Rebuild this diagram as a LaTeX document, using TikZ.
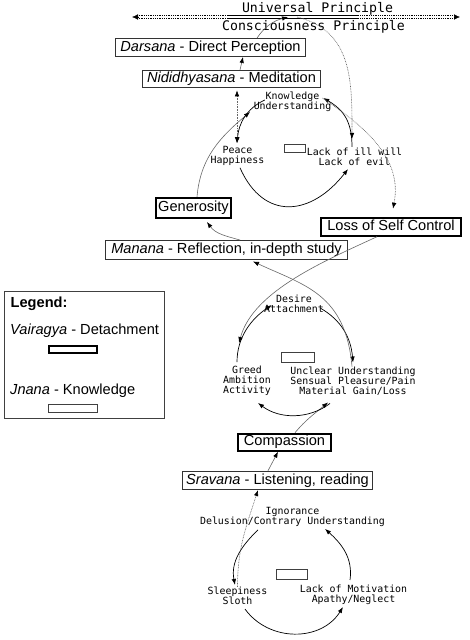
\documentclass[tikz,border=0pt]{standalone}
\usepackage{fontspec}
\setmainfont{Liberation Sans}
\newfontfamily\monof{DejaVu Sans Mono}
\usetikzlibrary{arrows.meta,calc}
\newcommand\boxf{\fontsize{14.6}{17}\selectfont}
\begin{document}
\begin{tikzpicture}[x=1pt,y=1pt,
  pbox/.style={draw=black!80, line width=0.9pt, font=\boxf, text height=10.6pt, text depth=3.1pt, inner xsep=0pt, inner ysep=1.5pt},
  kbox/.style={draw=black, line width=1.8pt, font=\boxf, text height=10.6pt, text depth=3.1pt, inner xsep=0pt, inner ysep=1.5pt},
  vname/.style={font=\monof\fontsize{9.9}{10}\selectfont, align=center, inner sep=0pt},
  lrect/.style={draw=black!75, line width=1.2pt, inner sep=0pt},
  tip/.style={-{Latex[length=6pt,width=4.5pt,color=black]}},
  cyc/.style={tip, line width=0.7pt, black},
  lnk/.style={tip, line width=0.6pt, black!60},
  dlnk/.style={lnk, dash pattern=on 0.8pt off 0.8pt},
]
\useasboundingbox (0,0) rectangle (470,-640);

% top principle line
\coordinate (ul) at (132,-17);
\coordinate (ur) at (460,-17);
\coordinate (sA) at (228,-17);
\coordinate (sB) at (358,-17);
\coordinate (linein) at (288,-17);
\coordinate (lineout) at (297,-17);
\draw[line width=0.8pt, double distance=1.8pt, dash pattern=on 0.9pt off 0.9pt] ([xshift=5pt]ul) -- ([xshift=-5pt]ur);
\draw[line width=0.8pt, double distance=1.8pt] (sA) -- (sB);
\draw[line width=0.5pt, -{Latex[length=6pt,width=5.5pt]}] ([xshift=6pt]ul) -- (ul);
\draw[line width=0.5pt, -{Latex[length=6pt,width=5.5pt]}] ([xshift=-6pt]ur) -- (ur);
\node[vname, font=\monof\fontsize{13.2}{14}\selectfont] (univ) at (317.5,-8.8) {Universal Principle};
\node[vname, font=\monof\fontsize{13.2}{14}\selectfont] (consc) at (313.5,-27.3) {Consciousness Principle};

% boxes
\node[pbox, minimum width=190, minimum height=18] (dars) at (210.5,-47.5) {\textit{Darsana} - Direct Perception};
\node[pbox, minimum width=178, minimum height=17.4] (nid) at (231.5,-79.2) {\textit{Nididhyasana} - Meditation};
\node[kbox, minimum width=75, minimum height=20.7] (gen) at (193.5,-208) {Generosity};
\node[kbox, minimum width=140, minimum height=18.2] (lsc) at (391,-226.7) {Loss of Self Control};
\node[pbox, minimum width=242, minimum height=19] (man) at (226.5,-250) {\textit{Manana} - Reflection, in-depth study};
\node[kbox, minimum width=93, minimum height=17.2] (comp) at (284.5,-442.2) {Compassion};
\node[pbox, minimum width=190, minimum height=18.4] (srav) at (277.5,-480.4) {\textit{Sravana} - Listening, reading};

% legend
\node[draw=black!75, line width=0.9pt, minimum width=160, minimum height=127, inner sep=0pt] (legend) at (84.5,-355) {};
\node[anchor=base west, inner sep=0pt, font=\boxf\bfseries] (legt) at (10.5,-307.3) {Legend:};
\node[anchor=base west, inner sep=0pt, font=\boxf] (legv) at (10,-334.3) {\textit{Vairagya} - Detachment};
\node[draw=black, line width=1.8pt, minimum width=48.5, minimum height=7.5, inner sep=0pt] (legvr) at (73,-349.5) {};
\node[anchor=base west, inner sep=0pt, font=\boxf] (legj) at (10,-394) {\textit{Jnana} - Knowledge};
\node[draw=black!75, line width=1pt, minimum width=49, minimum height=8, inner sep=0pt] (legjr) at (73,-408.5) {};

% top loop
\node[vname] (know) at (292.5,-102) {Knowledge\\Understanding};
\node[vname] (peace) at (237.5,-156) {Peace\\Happiness};
\node[vname] (lack) at (354.5,-157) {Lack of ill will\\Lack of evil};
\node[lrect, minimum width=21, minimum height=8.5] (r1) at (295,-148.5) {};

% middle loop
\node[vname] (desire) at (294,-304) {Desire\\Attachment};
\node[vname] (greed) at (247,-381) {Greed\\Ambition\\Activity};
\node[vname] (unclear) at (353,-381) {Unclear Understanding\\Sensual Pleasure/Pain\\Material Gain/Loss};
\node[lrect, minimum width=33, minimum height=10.5] (r2) at (298,-357.5) {};

% bottom loop
\node[vname] (ign) at (292.5,-517) {Ignorance\\Delusion/Contrary Understanding};
\node[vname] (sleep) at (237.5,-596) {Sleepiness\\Sloth};
\node[vname] (motiv) at (353.5,-595) {Lack of Motivation\\Apathy/Neglect};
\node[lrect, minimum width=31, minimum height=10.5] (r3) at (292,-574.5) {};

% bottom loop arcs
\draw[cyc] ([xshift=-34.5pt,yshift=-3pt]ign.south) to[out=224,in=101] ([xshift=-2.5pt,yshift=2pt]sleep.north);
\draw[cyc] ([xshift=7.5pt,yshift=-4pt]sleep.south) to[out=306,in=238,looseness=1.07] ([xshift=-10.5pt,yshift=-2pt]motiv.south);
\draw[cyc] ([xshift=-3.5pt,yshift=5pt]motiv.north) to[out=82,in=318] ([xshift=32.5pt,yshift=-2pt]ign.south);

% links upward
\draw[dlnk] (sleep.north) to[out=90,in=252] ([xshift=-19.5pt]srav.south);
\draw[lnk] ([xshift=-9.5pt]srav.north) -- ([xshift=-6.5pt]comp.south);
\draw[lnk] ([xshift=10.5pt]comp.north) to[out=50,in=220] ([xshift=-25pt,yshift=-7pt]unclear.south);

% middle loop arcs
\draw[cyc] ([xshift=-10pt,yshift=4pt]greed.north) to[out=90,in=214,looseness=0.95] ([xshift=7.8pt,yshift=-1pt]desire.west);
\draw[cyc] ([xshift=-3.8pt,yshift=-4pt]desire.east) to[out=330,in=95] ([yshift=4pt]unclear.north);
\draw[cyc] ([xshift=-23pt,yshift=-8pt]unclear.south) to[out=217,in=323,looseness=0.95] ([xshift=11pt,yshift=-7pt]greed.south);

% crossing links
\draw[lnk] ([xshift=-14pt]lsc.south) to[out=205,in=75,looseness=0.8] ([xshift=-8pt,yshift=23pt]greed.north);
\draw[lnk] ([xshift=-1pt]unclear.north) to[out=95,in=335,out looseness=1.3,in looseness=1] ([xshift=26.5pt,yshift=-1.5pt]man.south);

% Manana -> Generosity
\draw[lnk] ([xshift=13.5pt]man.north) to[out=164,in=306] ([xshift=13.5pt,yshift=-2.75pt]gen.south);

% top loop arcs and links
\draw[lnk] ([xshift=3.5pt]gen.north) to[out=85,in=220] ([xshift=-42.5pt]know.south);
\draw[cyc] ([xshift=11.2pt,yshift=2pt]know.west) to[out=205,in=85] ([xshift=-0.5pt,yshift=3pt]peace.north);
\draw[cyc] ([xshift=2.5pt,yshift=-2pt]peace.south) to[out=294,in=232,looseness=1.4] ([xshift=-6.5pt,yshift=-3pt]lack.south);
\draw[cyc] ([xshift=-2.5pt,yshift=1pt]lack.north) to[out=90,in=330,looseness=1.1] ([xshift=-8.2pt,yshift=4pt]know.east);
\draw[dlnk] ([xshift=-9pt,yshift=4pt]know.east) to[out=326,in=79] ([xshift=2pt,yshift=8pt]lsc.north);
\draw[dlnk, {Latex[length=6pt,width=4.5pt,color=black]}-{Latex[length=6pt,width=4.5pt,color=black]}] ([xshift=5.5pt,yshift=-2pt]nid.south) -- ([xshift=-0.5pt,yshift=3pt]peace.north);
\draw[lnk] ([xshift=8.5pt]nid.north) -- ([xshift=32.5pt]dars.south);
\draw[lnk] ([xshift=46.5pt]dars.north) to[out=56,in=195] (linein);
\draw[dlnk] (lineout) to[out=346,in=90,looseness=1.1] ([xshift=-2.5pt,yshift=9pt]lack.north);
\end{tikzpicture}
\end{document}
